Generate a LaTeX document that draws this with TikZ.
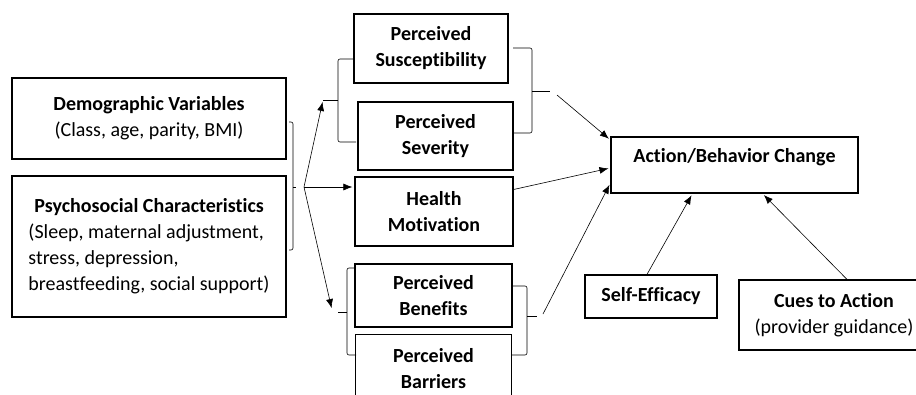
\documentclass[tikz,border=0pt]{standalone}
\usepackage{fontspec}
\setmainfont{Carlito}[Ligatures=NoCommon]
\usetikzlibrary{arrows.meta, positioning}

\tikzset{
  box/.style={draw, line width=1.2pt, align=center, inner sep=2pt,
    font=\fontsize{20}{26}\selectfont},
  brace/.style={draw, line width=0.6pt, rounded corners=2pt},
  arr/.style={line width=0.6pt, -{Latex[length=9pt,width=7pt]}, shorten >=2pt},
}

\begin{document}
\begin{tikzpicture}[x=1pt, y=-1pt]
    \useasboundingbox (0,0) rectangle (916,394);
    \clip (0,0) rectangle (916,394);

    % Define boxes
    \node[box, minimum width=274pt, minimum height=81pt] (demo) at (149,118.5)
        {\textbf{Demographic Variables}\\(Class, age, parity, BMI)};
    \node[box, minimum width=274pt, minimum height=141pt, align=left] (psych) at (149,246.5)
        {\hspace*{6pt}\textbf{Psychosocial Characteristics}\\(Sleep, maternal adjustment,\\stress, depression,\\breastfeeding, social support)};
    \node[box, minimum width=154pt, minimum height=69pt] (susc) at (431,48.5)
        {\textbf{Perceived}\\\textbf{Susceptibility}};
    \node[box, minimum width=155pt, minimum height=68pt] (sev) at (435.5,136)
        {\textbf{Perceived}\\\textbf{Severity}};
    \node[box, minimum width=158pt, minimum height=69pt] (health) at (434,211.5)
        {\textbf{Health}\\\textbf{Motivation}};
    \node[box, minimum width=157pt, minimum height=63pt] (benef) at (433.5,295.5)
        {\textbf{Perceived}\\\textbf{Benefits}};
    \node[box, minimum width=156pt, minimum height=68pt, below=6pt of benef] (barr)
        {\textbf{Perceived}\\\textbf{Barriers}};
    \node[box, minimum width=247pt, minimum height=56pt] (action) at (734.5,165)
        {\textbf{Action/Behavior Change}\\[-6pt]\mbox{}};
    \node[box, minimum width=132pt, minimum height=43pt] (selfeff) at (651,296.5)
        {\textbf{Self-Efficacy}};
    \node[box, minimum width=190pt, minimum height=70pt] (cues) at (834,315)
        {\textbf{Cues to Action}\\(provider guidance)};

    % Define brackets
    \draw[brace] (289,122) -- (293,122) -- (293,250) -- (289,250);
    \draw[brace] (293,187) -- (296,187);
    \draw[brace] (354,59) -- (338,59) -- (338,142) -- (356,142);
    \draw[brace] (338,100) -- (323,100);
    \draw[brace] (513,48) -- (532,48) -- (532,133) -- (513,133);
    \draw[brace] (532,91) -- (550,91);
    \draw[brace] (355,268) -- (347,268) -- (347,355) -- (356,355);
    \draw[brace] (347,312) -- (338,312);
    \draw[brace] (512,286) -- (527,286) -- (527,355) -- (512,355);
    \draw[brace] (527,316) -- (537,316);

    \coordinate (split) at (304,187);
    \coordinate (ssin) at (323,100);
    \coordinate (bbin) at (332,310);
    \coordinate (ssout) at (557,95);
    \coordinate (bbout) at (543,314);

    % Define arrows
    \draw[arr] (split) -- (ssin);
    \draw[arr] (split) -- (split -| health.west);
    \draw[arr] (split) -- (bbin);
    \draw[arr] (ssout) -- ([yshift=25pt]action.west);
    \draw[arr] ([yshift=22pt]health.east) -- ([yshift=-3pt]action.west);
    \draw[arr] (bbout) -- ([yshift=-18pt]action.west);
    \draw[arr] ([xshift=-4pt]selfeff.north) -- ([xshift=-42pt]action.south);
    \draw[arr] ([xshift=13pt]cues.north) -- ([xshift=28pt]action.south);
\end{tikzpicture}
\end{document}
